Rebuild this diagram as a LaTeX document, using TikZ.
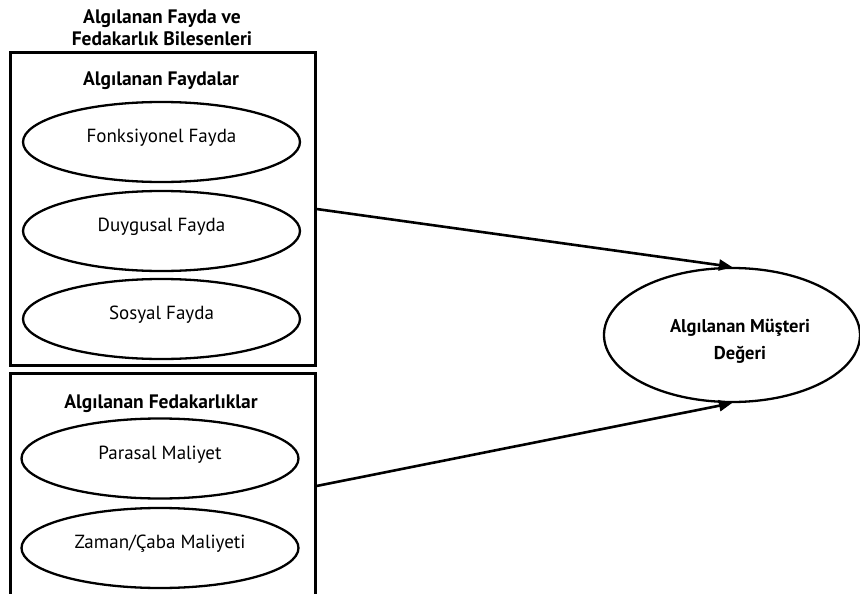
\documentclass[tikz,border=0pt]{standalone}
\usepackage{fontspec}
\setmainfont{PT Sans}
\usepackage{tikz}
\usetikzlibrary{arrows.meta,positioning,shapes.geometric}
\tikzset{
  grpbox/.style={draw, line width=3pt, minimum width=305pt, inner sep=0pt},
  ovalnode/.style={draw, ellipse, line width=2.3pt, minimum width=277pt, minimum height=80pt},
  itemnode/.style={ovalnode, font=\fontsize{19}{22}\selectfont, text height=13.7pt, text depth=12.7pt},
  headnode/.style={font=\fontsize{19.5}{22}\selectfont\bfseries, align=center, inner sep=0pt},
  link/.style={line width=2.6pt, -{Triangle[length=13pt,width=11pt]}}
}

\begin{document}
\begin{tikzpicture}[x=1pt, y=-1pt]
\clip (0,0) rectangle (860,594);
% title
\node[headnode] (title) at (162,28) {Algılanan Fayda ve\\Fedakarlık Bilesenleri};
% the two group boxes
\node[grpbox, minimum height=312pt] (benefits) at (162.5,209) {};
\node[grpbox, minimum height=226pt] (sacrifices) at (162.5,486) {};
\node[headnode] (bhead) at (161,81) {Algılanan Faydalar};
\node[headnode] (shead) at (161,404) {Algılanan Fedakarlıklar};
% benefit items
\node[itemnode] (functional) at (161.5,142) {Fonksiyonel Fayda};
\node[itemnode] (emotional) at (161.5,231) {Duygusal Fayda};
\node[itemnode] (social) at (161.5,319) {Sosyal Fayda};
% sacrifice items
\node[itemnode] (monetary) at (160,458.5) {Parasal Maliyet};
\node[itemnode] (effort) at (160,548) {Zaman/Çaba Maliyeti};
% outcome
\node[ovalnode, minimum width=256pt, minimum height=134pt] (value) at (732,335) {};
\node[headnode, font=\fontsize{18.5}{27}\selectfont\bfseries] (valuetext) at (740,341) {Algılanan Müşteri\\Değeri};
\draw[link] (benefits.east) -- (value.north);
\draw[link] (sacrifices.east) -- (value.south);
\end{tikzpicture}
\end{document}
